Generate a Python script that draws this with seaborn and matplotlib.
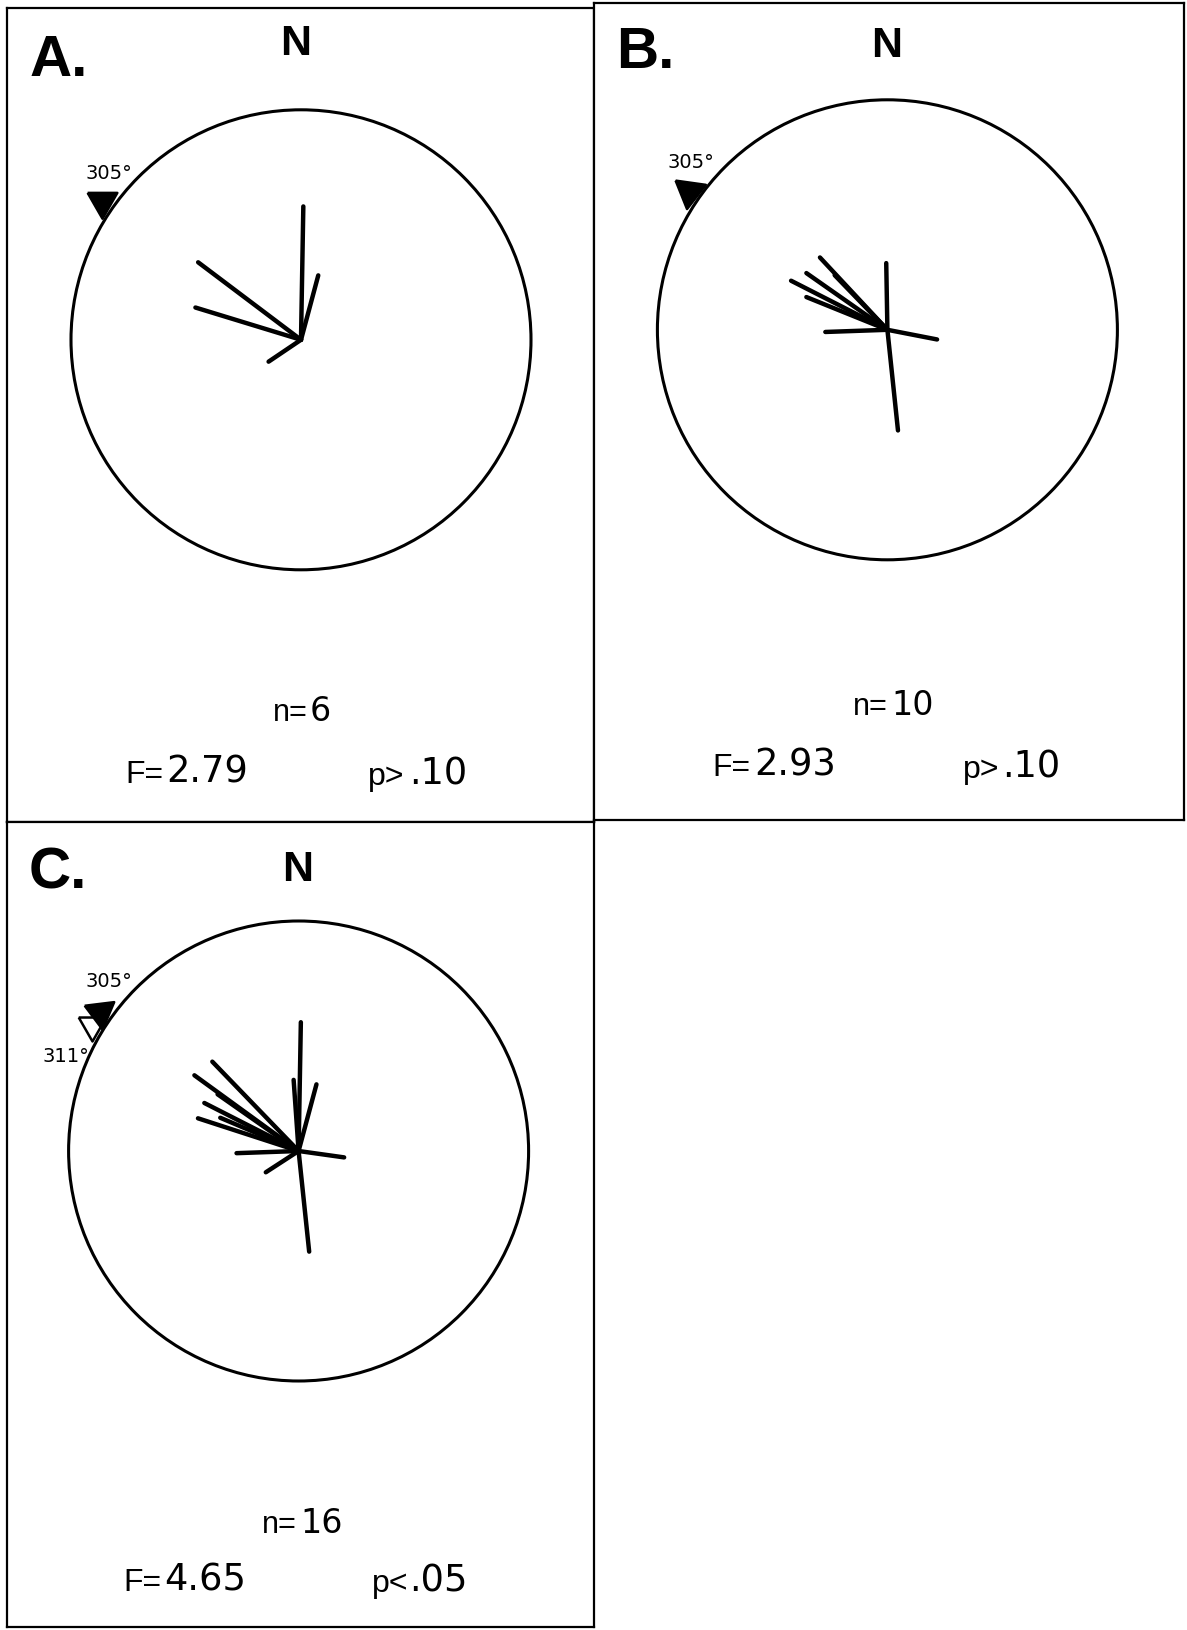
import numpy as np
import pandas as pd
import matplotlib
matplotlib.use("Agg")
import matplotlib.pyplot as plt
from matplotlib.patches import Circle
from matplotlib.markers import MarkerStyle
from matplotlib.transforms import Affine2D, offset_copy
import seaborn as sns

# Vanishing bearings (degrees clockwise from N) and vector lengths
# (fraction of the circle radius) for each release group.
a_bearings = [1, 15, 307, 287, 236]
a_lengths = [0.58, 0.29, 0.56, 0.48, 0.17]

b_bearings = [359, 174, 268, 101, 317, 305, 297, 292, 316]
b_lengths = [0.29, 0.44, 0.27, 0.22, 0.43, 0.43, 0.47, 0.38, 0.33]

c_bearings = [1, 174, 268, 98, 237, 15, 356, 316, 306, 297, 288, 293, 305]
c_lengths = [0.56, 0.44, 0.27, 0.20, 0.17, 0.30, 0.31, 0.54, 0.56, 0.46,
             0.46, 0.37, 0.43]

# Home directions marked outside the circle
home_bearings = [305, 311]
home_labels = ["305°", "311°"]

panel_labels = ["A.", "B.", "C."]
sample_sizes = ["6", "10", "16"]
f_values = ["2.79", "2.93", "4.65"]
p_signs = [">", ">", "<"]
p_values = [".10", ".10", ".05"]

# ---------------------------------------------------------------- layout
W, H = 1187, 1631
R = 230.0                      # circle radius in pixels
boxes = [(7, 9, 594, 823), (594, 4, 1184, 821), (7, 823, 594, 1628)]
centers = [(301, 340.8), (887.4, 330.8), (298.6, 1152.0)]

sns.set_theme(style="white")
plt.rcParams["font.family"] = ["Liberation Sans", "DejaVu Sans"]
plt.rcParams["text.color"] = "black"

fig = plt.figure(figsize=(W / 100, H / 100), dpi=100)
fig.patch.set_facecolor("white")

# closed downward triangle, vertices balanced about its centroid
tri = [(-1.0, 0.58), (1.0, 0.58), (0.0, -1.16), (-1.0, 0.58)]


def px(x, y):
    return x / W, 1 - y / H


def draw_panel(idx, bearings, lengths):
    l, t, r, b = boxes[idx]
    cx, cy = centers[idx]
    ax = fig.add_axes([l / W, 1 - b / H, (r - l) / W, (b - t) / H])
    ax.set_facecolor("white")

    th = np.deg2rad(bearings)
    rows = []
    for k, (a, L) in enumerate(zip(th, lengths)):
        rows.append({"vec": k, "x": 0.0, "y": 0.0})
        rows.append({"vec": k, "x": L * np.sin(a), "y": L * np.cos(a)})
    df = pd.DataFrame(rows)
    sns.lineplot(data=df, x="x", y="y", units="vec", estimator=None,
                 sort=False, color="black", linewidth=3.2,
                 solid_capstyle="round", ax=ax, legend=False)

    ax.add_patch(Circle((0, 0), 1.0, fill=False, lw=2.2, ec="black",
                        zorder=3))

    ax.set_xlim((l - cx) / R, (r - cx) / R)
    ax.set_ylim((cy - b) / R, (cy - t) / R)
    ax.set_xticks([])
    ax.set_yticks([])
    ax.set_xlabel("")
    ax.set_ylabel("")
    for s in ax.spines.values():
        s.set_visible(True)
        s.set_color("black")
        s.set_linewidth(1.6)
    return ax


def home_marker(ax, bearing, rot=0.0, face="black", dx=0, dy=0, z=5,
                size=24.8):
    a = np.deg2rad(bearing)
    x, y = 1.055 * np.sin(a), 1.055 * np.cos(a)
    tr = offset_copy(ax.transData, fig=fig, x=dx, y=dy, units="dots")
    m = MarkerStyle(tri, transform=Affine2D().rotate_deg(rot))
    ax.scatter([x], [y], marker=m, s=size ** 2, c=face, edgecolors="black",
               linewidths=1.8, zorder=z, transform=tr, clip_on=False)
    return x, y


def home_label(ax, xy, text, off):
    ax.annotate(text, xy=xy, xytext=off, textcoords="offset pixels",
                ha="left", va="baseline", fontsize=14,
                family=["DejaVu Sans"], color="black")


axA = draw_panel(0, a_bearings, a_lengths)
axB = draw_panel(1, b_bearings, b_lengths)
axC = draw_panel(2, c_bearings, c_lengths)

# home direction markers
p = home_marker(axA, home_bearings[0])
home_label(axA, p, home_labels[0], (-17, 23))
p = home_marker(axB, home_bearings[0], rot=-8, size=25.5)
home_label(axB, p, home_labels[0], (-21, 24))
# the second home direction is stacked just below the first one
p2 = home_marker(axC, home_bearings[0], face="white", dx=-8, dy=-13, z=4,
                 size=23)
p = home_marker(axC, home_bearings[0], rot=7)
home_label(axC, p, home_labels[0], (-14, 26))
home_label(axC, p, home_labels[1], (-57, -49))

# panel letters and north labels
label_pos = [(30, 76), (616, 68), (29, 889)]
north_pos = [(296, 55), (887, 57), (298, 881)]
for lab, (x, y) in zip(panel_labels, label_pos):
    fig.text(*px(x, y), lab, ha="left", va="baseline", fontsize=42,
             fontweight="bold", color="black")
for (x, y) in north_pos:
    fig.text(*px(x, y), "N", ha="center", va="baseline", fontsize=31,
             fontweight="bold", color="black")

# statistics beneath each circle
n_pos = [(308, 310, 721), (888, 891, 715), (297, 300, 1533)]
f_pos = [(125, 166, 783), (712, 754, 776), (123, 164, 1591)]
p_pos = [(368, 409, 785), (963, 1002, 778), (372, 409, 1592)]
val_font = ["DejaVu Sans"]
for i in range(3):
    x0, x1, y = n_pos[i]
    fig.text(*px(x0, y), "n=", ha="right", va="baseline", fontsize=22,
             color="black")
    fig.text(*px(x1, y), sample_sizes[i], ha="left", va="baseline",
             fontsize=24, family=val_font, color="black")
    x0, x1, y = f_pos[i]
    fig.text(*px(x0, y), "F=", ha="left", va="baseline", fontsize=23,
             color="black")
    fig.text(*px(x1, y), f_values[i], ha="left", va="baseline",
             fontsize=26.5, family=val_font, color="black")
    x0, x1, y = p_pos[i]
    fig.text(*px(x0, y), "p" + p_signs[i], ha="left", va="baseline",
             fontsize=23, color="black")
    fig.text(*px(x1, y), p_values[i], ha="left", va="baseline",
             fontsize=26.5, family=val_font, color="black")

fig.savefig("out.png", dpi=100, facecolor="white")
